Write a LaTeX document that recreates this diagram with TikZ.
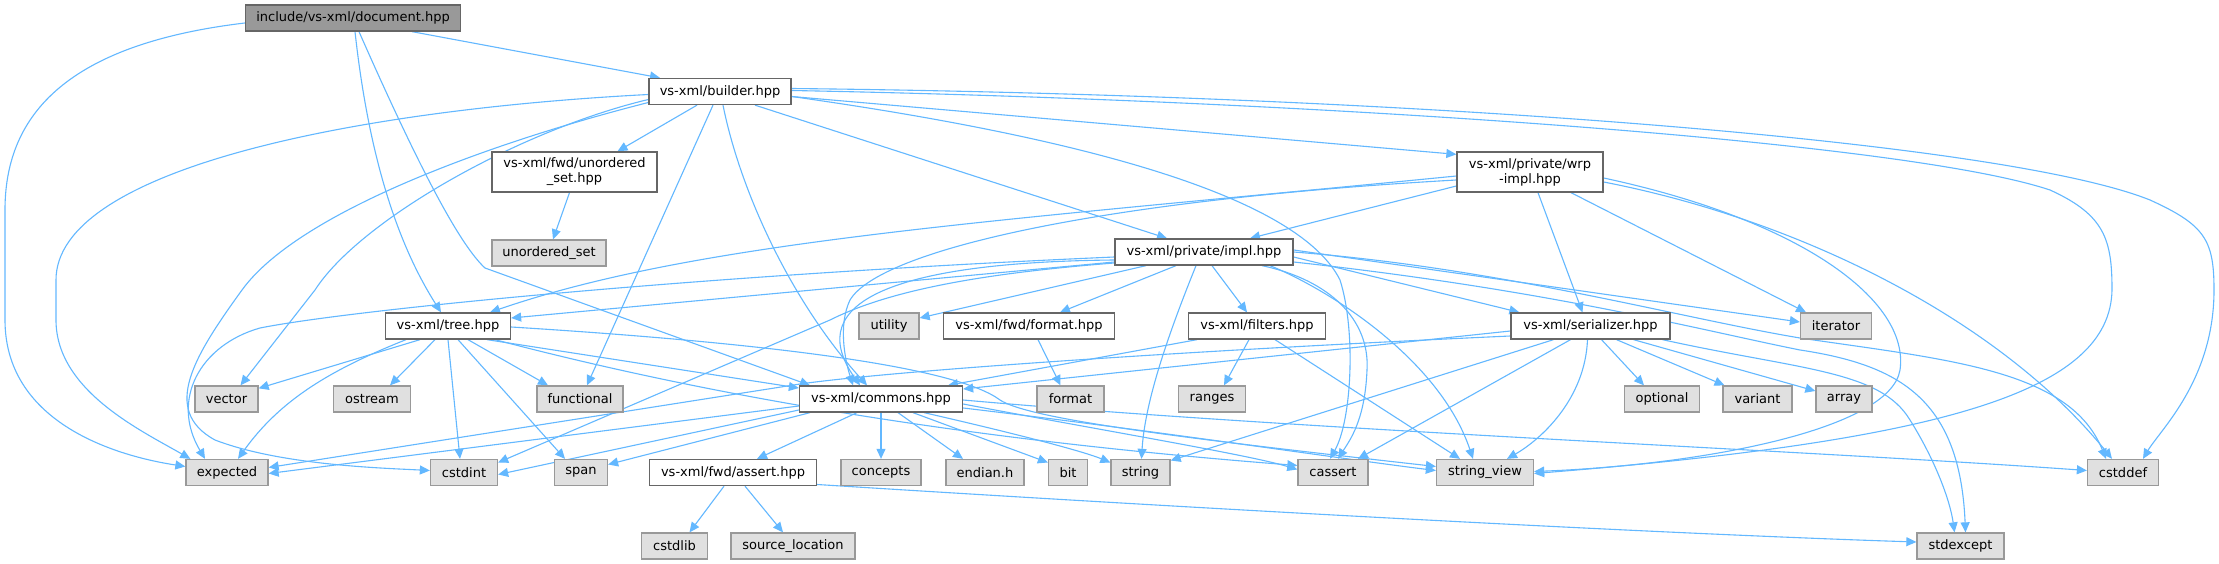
\documentclass[tikz,border=0pt]{standalone}
\usepackage{fontspec}
\setmainfont{DejaVu Sans}
\usetikzlibrary{arrows.meta,backgrounds}
\definecolor{edgec}{HTML}{63B8FF}
\definecolor{sysfill}{HTML}{E0E0E0}
\definecolor{sysdraw}{HTML}{999999}
\definecolor{hdrdraw}{HTML}{666666}
\definecolor{rootfill}{HTML}{999999}
\begin{document}
\begin{tikzpicture}[x=1pt,y=-1pt,
  base/.style={draw, rectangle, inner sep=0pt, minimum height=26pt, line width=1.3pt,
    font=\fontsize{13}{15}\selectfont, align=center, text=black},
  sys/.style={base, fill=sysfill, draw=sysdraw},
  hdr/.style={base, fill=white, draw=hdrdraw},
  root/.style={base, fill=rootfill, draw=hdrdraw},
  dep/.style={draw=edgec, line width=1.1pt, -{Triangle[length=10pt,width=9pt]}}
]
\useasboundingbox (0,0) rectangle (2219,564);

% ---------- nodes ----------
\node[root, minimum width=215pt] (doc) at (353,18) {include/vs-xml/document.hpp};
\node[hdr, minimum width=142pt] (builder) at (720,91.5) {vs-xml/builder.hpp};
\node[hdr, minimum width=165pt, minimum height=40pt] (fwdunord) at (574.5,172) {vs-xml/fwd/unordered\\\_set.hpp};
\node[sys, minimum width=114pt] (unord) at (549,253) {unordered\_set};
\node[hdr, minimum width=146pt, minimum height=40pt] (wrp) at (1530,172) {vs-xml/private/wrp\\-impl.hpp};
\node[hdr, minimum width=178pt] (impl) at (1204,252) {vs-xml/private/impl.hpp};
\node[hdr, minimum width=125pt] (tree) at (448,326) {vs-xml/tree.hpp};
\node[sys, minimum width=60pt] (utility) at (889,326) {utility};
\node[hdr, minimum width=171pt] (fwdformat) at (1029,326) {vs-xml/fwd/format.hpp};
\node[hdr, minimum width=137pt] (filters) at (1257,326) {vs-xml/filters.hpp};
\node[hdr, minimum width=159pt] (serializer) at (1590.5,326) {vs-xml/serializer.hpp};
\node[sys, minimum width=71pt] (iterator) at (1836,326) {iterator};
\node[sys, minimum width=63pt] (vector) at (226.5,399) {vector};
\node[sys, minimum width=77pt] (ostream) at (372,399) {ostream};
\node[sys, minimum width=86pt] (functional) at (580,399) {functional};
\node[hdr, minimum width=163pt] (commons) at (881,399) {vs-xml/commons.hpp};
\node[sys, minimum width=67pt] (format) at (1070.5,399) {format};
\node[sys, minimum width=67pt] (ranges) at (1212,399) {ranges};
\node[sys, minimum width=75pt] (optional) at (1662,399) {optional};
\node[sys, minimum width=69pt] (variant) at (1757.5,399) {variant};
\node[sys, minimum width=56pt] (array) at (1844,399) {array};
\node[sys, minimum width=82pt] (expected) at (227,472.5) {expected};
\node[sys, minimum width=67pt] (cstdint) at (464,472.5) {cstdint};
\node[sys, minimum width=53pt] (span) at (581,472.5) {span};
\node[hdr, minimum width=167pt] (assert) at (733,472.5) {vs-xml/fwd/assert.hpp};
\node[sys, minimum width=80pt] (concepts) at (881,472.5) {concepts};
\node[sys, minimum width=78pt] (endian) at (985,472.5) {endian.h};
\node[sys, minimum width=39pt] (bit) at (1068,472.5) {bit};
\node[sys, minimum width=59pt] (string) at (1140.5,472.5) {string};
\node[sys, minimum width=70pt] (cassert) at (1333,472.5) {cassert};
\node[sys, minimum width=97pt] (stringview) at (1485,472.5) {string\_view};
\node[sys, minimum width=71pt] (cstddef) at (2123,472.5) {cstddef};
\node[sys, minimum width=66pt] (cstdlib) at (674.5,546) {cstdlib};
\node[sys, minimum width=124pt] (srcloc) at (793,546) {source\_location};
\node[sys, minimum width=87pt] (stdexcept) at (1960.5,546) {stdexcept};

\begin{pgfonlayer}{background}
\fill[white] (0,0) rectangle (2219,564);

% ---------- document.hpp ----------
\draw[dep] ([yshift=-5pt]doc.west) .. controls (60,45) and (5,120) .. (5,210) -- (5,320) .. controls (5,420) and (110,455) .. ([yshift=6pt]expected.west);
\draw[dep] ([xshift=59pt]doc.south) -- ([xshift=-60pt]builder.north);
\draw[dep] ([xshift=2pt]doc.south) .. controls (368,150) and (395,240) .. ([xshift=-7pt]tree.north);
\draw[dep] ([xshift=6pt]doc.south) .. controls (420,170) and (460,245) .. (485,268) -- ([xshift=-71pt]commons.north);

% ---------- builder.hpp ----------
\draw[dep] ([xshift=-23pt]builder.south) -- ([xshift=43pt]fwdunord.north);
\draw[dep] ([xshift=35pt]builder.south) -- ([xshift=-37pt]impl.north);
\draw[dep] ([yshift=-5pt]builder.east) -- ([yshift=-3pt]wrp.north west);
\draw[dep] ([xshift=3pt]builder.south) .. controls (740,190) and (790,300) .. ([xshift=-14pt]commons.north);
\draw[dep] ([xshift=-7pt]builder.south) -- ([xshift=7pt]functional.north);
\draw[dep] ([yshift=-8pt]builder.west) .. controls (520,130) and (360,220) .. (315,290) -- ([xshift=14pt]vector.north);
\draw[dep] ([yshift=-11pt]builder.west) .. controls (500,140) and (300,210) .. (242,290) .. controls (195,355) and (160,410) .. (215,440) .. controls (280,465) and (380,468) .. ([yshift=2pt]cstdint.west);
\draw[dep] ([yshift=-3pt]builder.west) .. controls (350,110) and (56,170) .. (56,280) -- (56,320) .. controls (56,390) and (140,430) .. ([xshift=5pt]expected.north west);
\draw[dep] ([yshift=-5pt]builder.east) .. controls (1100,140) and (1300,200) .. (1340,280) .. controls (1356,330) and (1352,420) .. ([xshift=-3pt]cassert.north);
\draw[dep] ([yshift=1pt]builder.east) .. controls (1300,100) and (1900,140) .. (2050,190) .. controls (2105,215) and (2112,240) .. (2112,290) .. controls (2110,390) and (1950,440) .. ([yshift=-1pt]stringview.east);
\draw[dep] ([yshift=3pt]builder.east) .. controls (1400,95) and (2000,140) .. (2150,200) .. controls (2205,225) and (2214,240) .. (2214,290) .. controls (2214,380) and (2160,430) .. ([xshift=20pt]cstddef.north);

% ---------- fwd/unordered_set.hpp ----------
\draw[dep] ([xshift=-5pt]fwdunord.south) -- ([xshift=4pt]unord.north);

% ---------- wrp-impl.hpp ----------
\draw[dep] ([yshift=-14pt]wrp.west) -- ([xshift=46pt]impl.north);
\draw[dep] ([xshift=8pt]wrp.south) -- ([xshift=-8pt]serializer.north);
\draw[dep] ([yshift=-4pt]wrp.west) .. controls (1000,221) and (700,240) .. ([xshift=42pt]tree.north);
\draw[dep] ([yshift=-8pt]wrp.west) .. controls (1100,200) and (880,250) .. (850,300) .. controls (838,325) and (845,360) .. ([xshift=-28pt]commons.north);
\draw[dep] ([xshift=41pt]wrp.south) -- ([xshift=-30pt]iterator.north);
\draw[dep] ([yshift=-6pt]wrp.east) .. controls (1800,220) and (1910,300) .. (1900,370) .. controls (1890,430) and (1700,465) .. ([yshift=1pt]stringview.east);
\draw[dep] ([yshift=-10pt]wrp.east) .. controls (1800,220) and (2000,320) .. ([xshift=-11pt]cstddef.north);

% ---------- private/impl.hpp ----------
\draw[dep] ([yshift=-10pt]impl.west) -- ([yshift=8pt]tree.east);
\draw[dep] ([yshift=-8pt]impl.west) .. controls (900,262) and (800,300) .. ([xshift=-21pt]commons.north);
\draw[dep] ([xshift=-58pt]impl.south) -- ([yshift=8pt]utility.east);
\draw[dep] ([xshift=-28pt]impl.south) -- ([xshift=31pt]fwdformat.north);
\draw[dep] ([xshift=8pt]impl.south) -- ([xshift=-10pt]filters.north);
\draw[dep] ([xshift=-8pt]impl.south) .. controls (1170,330) and (1145,400) .. ([xshift=1pt]string.north);
\draw[dep] ([xshift=58pt]impl.south) .. controls (1330,280) and (1370,320) .. (1367,370) .. controls (1365,420) and (1350,440) .. ([xshift=5pt]cassert.north);
\draw[dep] ([xshift=66pt]impl.south) .. controls (1330,290) and (1440,360) .. ([xshift=-12pt]stringview.north);
\draw[dep] ([yshift=-5pt]impl.east) -- ([xshift=9pt]serializer.north west);
\draw[dep] ([yshift=2pt]impl.east) -- ([yshift=4pt]iterator.west);
\draw[dep] (impl.east) .. controls (1500,268) and (1680,318) .. (1800,338) .. controls (1950,360) and (2070,370) .. ([xshift=-17pt]cstddef.north);
\draw[dep] ([yshift=-10pt]impl.east) .. controls (1550,290) and (1700,330) .. (1800,350) .. controls (1900,365) and (1960,400) .. ([xshift=5pt]stdexcept.north);
\draw[dep] ([yshift=-5pt]impl.west) .. controls (700,275) and (350,310) .. (260,328) .. controls (200,345) and (170,400) .. ([xshift=-22pt]expected.north);
\draw[dep] ([yshift=-11pt]impl.west) .. controls (960,275) and (880,295) .. (830,320) -- ([yshift=10pt]cstdint.east);

% ---------- fwd/format.hpp ----------
\draw[dep] ([xshift=9pt]fwdformat.south) -- ([xshift=-10pt]format.north);

% ---------- filters.hpp ----------
\draw[dep] ([xshift=-8pt]filters.south) -- ([xshift=12pt]ranges.north);
\draw[dep] ([xshift=18pt]filters.south) -- ([xshift=-25pt]stringview.north);
\draw[dep] ([xshift=-60pt]filters.south) -- ([xshift=67pt]commons.north);

% ---------- serializer.hpp ----------
\draw[dep] ([yshift=-5pt]serializer.west) -- ([yshift=10pt]commons.east);
\draw[dep] ([yshift=-10pt]serializer.west) .. controls (1200,350) and (900,370) .. (800,384) -- ([yshift=5pt]expected.east);
\draw[dep] ([xshift=-37pt]serializer.south) -- ([yshift=12pt]string.east);
\draw[dep] ([xshift=-20pt]serializer.south) -- ([xshift=25pt]cassert.north);
\draw[dep] ([xshift=-3pt]serializer.south) .. controls (1585,400) and (1540,440) .. ([xshift=22pt]stringview.north);
\draw[dep] ([xshift=11pt]serializer.south) -- ([xshift=-18pt]optional.north);
\draw[dep] ([xshift=26pt]serializer.south) -- ([xshift=-33pt]variant.north);
\draw[dep] ([xshift=43pt]serializer.south) -- ([yshift=8pt]array.west);
\draw[dep] ([xshift=72pt]serializer.south) .. controls (1800,370) and (1880,370) .. (1910,420) .. controls (1935,460) and (1950,500) .. ([xshift=-6pt]stdexcept.north);

% ---------- tree.hpp ----------
\draw[dep] ([xshift=-28pt]tree.south) -- ([yshift=-3pt]vector.north east);
\draw[dep] ([xshift=-42pt]tree.south) .. controls (330,370) and (280,400) .. ([xshift=11pt]expected.north);
\draw[dep] ([xshift=-13pt]tree.south) -- ([xshift=18pt]ostream.north);
\draw[dep] (tree.south) -- ([xshift=-4pt]cstdint.north);
\draw[dep] ([xshift=10pt]tree.south) -- ([xshift=-16pt]span.north);
\draw[dep] ([xshift=20pt]tree.south) -- ([xshift=-32pt]functional.north);
\draw[dep] ([xshift=39pt]tree.south) -- ([yshift=11pt]commons.west);
\draw[dep] ([xshift=47pt]tree.south) .. controls (800,420) and (1100,450) .. ([yshift=7pt]cassert.west);
\draw[dep] ([yshift=-1pt]tree.east) .. controls (800,345) and (960,370) .. (1000,400) .. controls (1030,420) and (1200,440) .. ([yshift=6pt]stringview.west);

% ---------- commons.hpp ----------
\draw[dep] ([xshift=-24pt]commons.south) -- ([xshift=24pt]assert.north);
\draw[dep] (commons.south) -- (concepts.north);
\draw[dep] ([xshift=17pt]commons.south) -- ([xshift=-22pt]endian.north);
\draw[dep] ([xshift=32pt]commons.south) -- ([yshift=10pt]bit.west);
\draw[dep] ([xshift=43pt]commons.south) .. controls (1000,430) and (1080,450) .. ([yshift=10pt]string.west);
\draw[dep] ([yshift=-5pt]commons.east) .. controls (1100,430) and (1250,455) .. ([yshift=3pt]cassert.west);
\draw[dep] ([yshift=-9pt]commons.east) .. controls (1150,430) and (1350,460) .. ([yshift=2pt]stringview.west);
\draw[dep] ([yshift=-1pt]commons.east) .. controls (1300,430) and (1800,450) .. ([yshift=2pt]cstddef.west);
\draw[dep] ([yshift=-7pt]commons.west) -- ([yshift=-1pt]expected.east);
\draw[dep] ([yshift=-11pt]commons.west) -- ([yshift=-2pt]cstdint.east);
\draw[dep] ([xshift=-71pt]commons.south) -- ([yshift=8pt]span.east);

% ---------- fwd/assert.hpp ----------
\draw[dep] ([xshift=-9pt]assert.south) -- ([xshift=15pt]cstdlib.north);
\draw[dep] ([xshift=12pt]assert.south) -- ([xshift=-10pt]srcloc.north);
\draw[dep] ([yshift=-12pt]assert.east) .. controls (1300,515) and (1700,535) .. ([yshift=4pt]stdexcept.west);
\end{pgfonlayer}
\end{tikzpicture}
\end{document}
